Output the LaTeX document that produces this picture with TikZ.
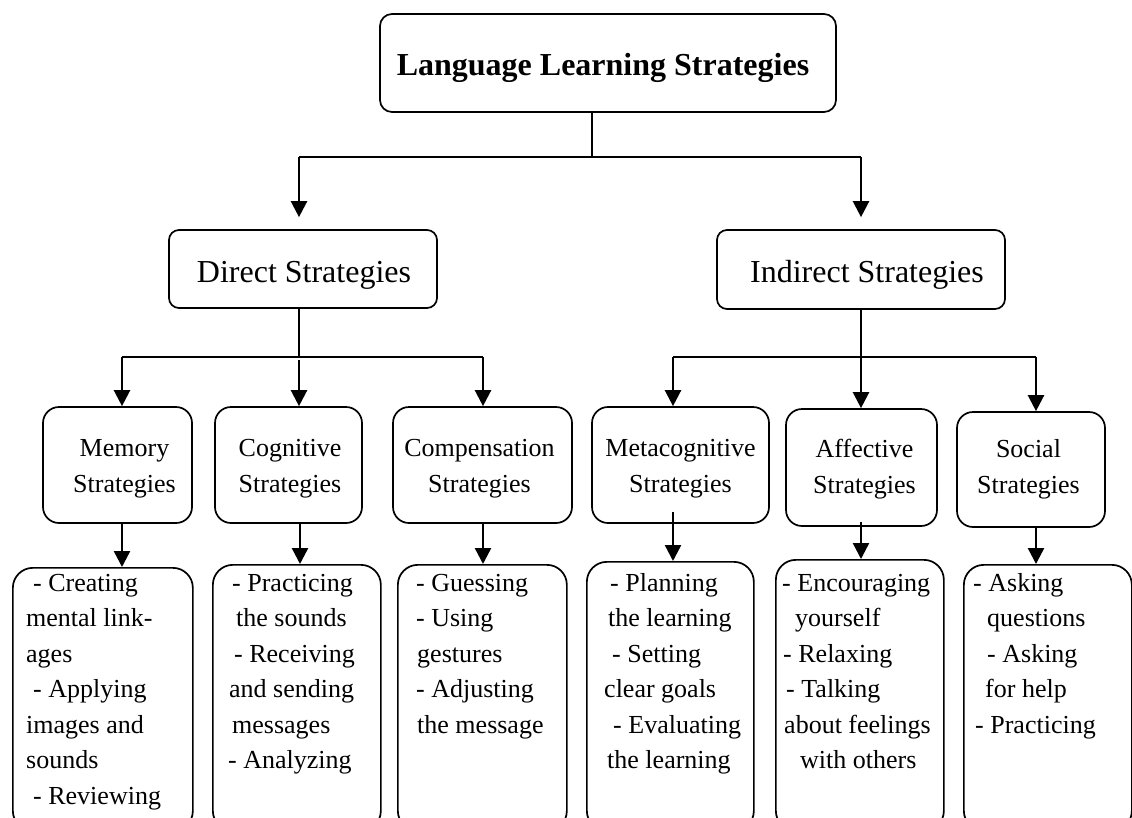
\documentclass[tikz,border=0pt]{standalone}
\usepackage{fontspec}
\setmainfont{Liberation Serif}
\usetikzlibrary{arrows.meta,calc}
\begin{document}
\begin{tikzpicture}[x=1pt,y=-1pt,
  box/.style={draw,line width=1.7pt,rounded corners=#1,inner sep=0pt},
  link/.style={line width=1.7pt},
  arr/.style={line width=2.4pt,-{Triangle[length=16pt,width=16pt]}},
  title/.style={font=\bfseries\fontsize{32}{38}\selectfont,anchor=base,inner sep=0pt},
  head/.style={font=\fontsize{32}{38}\selectfont,anchor=base,inner sep=0pt},
  cat/.style={font=\fontsize{26}{36}\selectfont,align=center,inner sep=0pt},
  item/.style={font=\fontsize{26}{31}\selectfont,anchor=base west,inner sep=0pt}
]
\useasboundingbox (0,0) rectangle (1132,817);
\clip (0,0) rectangle (1132,817);

% root
\node[box=12pt,minimum width=456pt,minimum height=98pt] (root) at (608,63) {};
\node[title] (rootT) at (603,75) {Language Learning Strategies};

% two main branches
\node[box=10pt,minimum width=268pt,minimum height=78pt] (direct) at (303,269) {};
\node[head] (directT) at (304,282) {Direct Strategies};
\node[box=10pt,minimum width=288pt,minimum height=79pt] (indirect) at (861,269.5) {};
\node[head] (indirectT) at (867,282) {Indirect Strategies};

% six strategy groups
\node[box=16pt,minimum width=149pt,minimum height=116pt] (memory) at (117.5,465) {};
\node[box=16pt,minimum width=147pt,minimum height=116pt] (cognitive) at (288.5,465) {};
\node[box=16pt,minimum width=179pt,minimum height=116pt] (compensation) at (482.5,465) {};
\node[box=16pt,minimum width=177pt,minimum height=116pt] (meta) at (680.5,465) {};
\node[box=16pt,minimum width=151pt,minimum height=117pt] (affective) at (861.5,467.5) {};
\node[box=16pt,minimum width=148pt,minimum height=115pt] (social) at (1031,469.5) {};

\node[cat] (memoryT) at (124.5,469) {Memory\\Strategies};
\node[cat] (cognitiveT) at (290,469) {Cognitive\\Strategies};
\node[cat] (compensationT) at (479.5,469) {Compensation\\Strategies};
\node[cat] (metaT) at (680.5,469) {Metacognitive\\Strategies};
\node[cat] (affectiveT) at (864.5,469) {Affective\\Strategies};
\node[cat] (socialT) at (1028.5,469) {Social\\Strategies};

% lists of sub-strategies
\node[box=20pt,minimum width=180pt,minimum height=263pt,anchor=north west] (memlist) at (12,567) {};
\node[box=20pt,minimum width=168pt,minimum height=266pt,anchor=north west] (coglist) at (212,564) {};
\node[box=20pt,minimum width=169pt,minimum height=266pt,anchor=north west] (complist) at (397,564) {};
\node[box=20pt,minimum width=167pt,minimum height=269pt,anchor=north west] (metalist) at (586,561) {};
\node[box=20pt,minimum width=168pt,minimum height=271pt,anchor=north west] (afflist) at (775,559) {};
\node[box=20pt,minimum width=168pt,minimum height=266pt,anchor=north west] (soclist) at (963,564) {};

\foreach \dx/\t [count=\i] in {33/- Creating,26/mental link-,26/ages,33/- Applying,26/images and,26/sounds,33/- Reviewing}
  \node[item,name=mem\i] at ({\dx},{591+35.5*(\i-1)}) {\t};
\foreach \dx/\t [count=\i] in {232/- Practicing,236/the sounds,234/- Receiving,229/and sending,232/messages,228/- Analyzing}
  \node[item,name=cog\i] at ({\dx},{591+35.5*(\i-1)}) {\t};
\foreach \dx/\t [count=\i] in {416/- Guessing,416/- Using,417/gestures,416/- Adjusting,417/the message}
  \node[item,name=comp\i] at ({\dx},{591+35.5*(\i-1)}) {\t};
\foreach \dx/\t [count=\i] in {610/- Planning,608/the learning,612/- Setting,604/clear goals,613/- Evaluating,607/the learning}
  \node[item,name=meta\i] at ({\dx},{591+35.5*(\i-1)}) {\t};
\foreach \dx/\t [count=\i] in {782/- Encouraging,795/yourself,783/- Relaxing,786/- Talking,784/about feelings,800/with others}
  \node[item,name=aff\i] at ({\dx},{591+35.5*(\i-1)}) {\t};
\foreach \dx/\t [count=\i] in {973/- Asking,987/questions,987/- Asking,985/for help,975/- Practicing}
  \node[item,name=soc\i] at ({\dx},{591+35.5*(\i-1)}) {\t};

% junction points of the connectors
\coordinate (j0) at (592,157);
\coordinate (jL) at (299,157);
\coordinate (jR) at (861,157);
\coordinate (d0) at (299,357);
\coordinate (dL) at (122,357);
\coordinate (dM) at (299,360);
\coordinate (dR) at (483,357);
\coordinate (i0) at (861,357);
\coordinate (iL) at (673,357);
\coordinate (iR) at (1036,357);

% root to the two branches
\draw[link] (root.south -| j0) -- (j0);
\draw[link] (jL) -- (jR);
\draw[arr] (jL) -- ($(direct.north -| jL)+(0,-12)$);
\draw[arr] (jR) -- ($(indirect.north -| jR)+(0,-12)$);

% direct strategies to their groups
\draw[link] (direct.south -| d0) -- (d0);
\draw[link] (dL) -- (dR);
\draw[arr] (dL) -- (memory.north -| dL);
\draw[arr] (dM) -- (cognitive.north -| dM);
\draw[arr] (dR) -- (compensation.north -| dR);

% indirect strategies to their groups
\draw[link] (indirect.south -| i0) -- (i0);
\draw[link] (iL) -- (iR);
\draw[arr] (iL) -- (meta.north -| iL);
\draw[arr] (i0) -- (affective.north -| i0);
\draw[arr] (iR) -- (social.north -| iR);

% groups to their lists
\draw[arr] (memory.south -| dL) -- (memlist.north -| dL);
\draw[arr] (cognitive.south -| 300,0) -- (coglist.north -| 300,0);
\draw[arr] ($(compensation.south -| dR)+(0,-2)$) -- (complist.north -| dR);
\draw[arr] ($(meta.south -| iL)+(0,-12)$) -- (metalist.north -| iL);
\draw[arr] ($(affective.south -| i0)+(0,-5)$) -- (afflist.north -| i0);
\draw[arr] (social.south -| iR) -- (soclist.north -| iR);
\end{tikzpicture}
\end{document}
